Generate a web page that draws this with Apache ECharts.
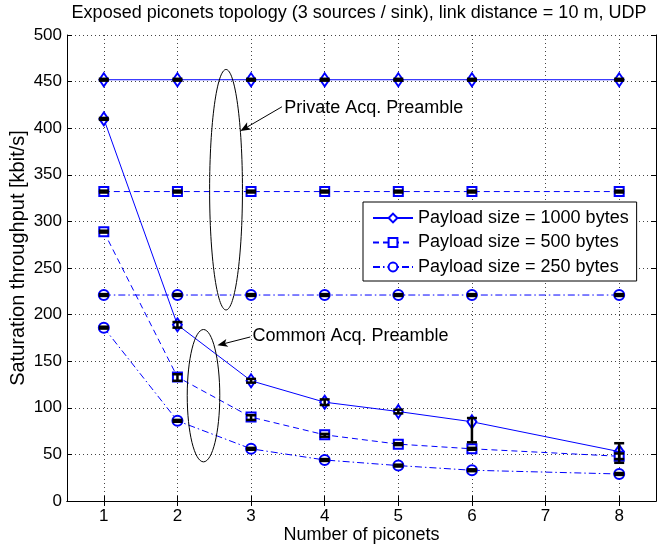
<!DOCTYPE html>
<html>
<head>
<meta charset="utf-8">
<script src="https://cdn.jsdelivr.net/npm/echarts@6/dist/echarts.min.js"></script>
<style>
  html, body { margin: 0; padding: 0; background: #fff; }
  #chart { width: 658px; height: 544px; }
</style>
</head>
<body>
<div id="chart"></div>
<script>
// x positions where measurements exist (no run with 7 piconets)
const piconets = [1, 2, 3, 4, 5, 6, 8];
const xTicks = [1, 2, 3, 4, 5, 6, 7, 8];

const seriesNames = ['Payload size = 1000 bytes', 'Payload size = 500 bytes', 'Payload size = 250 bytes'];

// Private acquisition preamble (flat)
const private1000 = [452, 452, 452, 452, 452, 452, 452];
const private500 = [332, 332, 332, 332, 332, 332, 332];
const private250 = [221, 221, 221, 221, 221, 221, 221];

// Common acquisition preamble
const common1000 = [410, 189, 129, 106, 96, 85, 53];
const common500 = [289, 133, 90, 71, 61, 56, 48];
const common250 = [186, 86, 56, 44, 38, 33, 29];

// error bar ranges
const private1000Low = [451, 451, 451, 451, 451, 451, 451];
const private1000High = [453, 453, 453, 453, 453, 453, 453];
const private500Low = [331, 331, 331, 331, 331, 331, 331];
const private500High = [333, 333, 333, 333, 333, 333, 333];
const private250Low = [220, 220, 220, 220, 220, 220, 220];
const private250High = [222, 222, 222, 222, 222, 222, 222];
const common1000Low = [409, 186, 127, 103, 94, 63, 41];
const common1000High = [411, 192, 131, 109, 98, 89, 62];
const common500Low = [288, 129, 87, 69, 60, 55, 45];
const common500High = [290, 136, 92, 72, 62, 57, 51];
const common250Low = [185, 85, 55, 43, 37, 32, 28];
const common250High = [187, 87, 57, 45, 39, 34, 30];

const noteTexts = ['Private Acq. Preamble', 'Common Acq. Preamble'];

// annotation geometry, in data units
const notes = [
  { center: [2.66, 334], radius: [0.223, 129], from: [3.42, 423], tip: [2.855, 397], textAt: [3.45, 422] },
  { center: [2.354, 113], radius: [0.221, 71], from: [2.99, 176], tip: [2.543, 167], textAt: [3.02, 177] }
];

const FONT = "'Liberation Sans', Arial, sans-serif";
const BLUE = '#0000ff';

const toPoints = (vals) => piconets.map((x, i) => [x, vals[i]]);
const toBars = (low, high) => piconets.map((x, i) => [x, low[i], high[i]]);

const errorData = [].concat(
  toBars(private1000Low, private1000High),
  toBars(private500Low, private500High),
  toBars(private250Low, private250High),
  toBars(common1000Low, common1000High),
  toBars(common500Low, common500High),
  toBars(common250Low, common250High)
);

function renderErrorBar(params, api) {
  const x = api.value(0);
  const lo = api.coord([x, api.value(1)]);
  const hi = api.coord([x, api.value(2)]);
  const half = 5;
  const style = { stroke: '#000', lineWidth: 2.5 };
  return {
    type: 'group',
    children: [
      { type: 'line', shape: { x1: hi[0], y1: hi[1], x2: lo[0], y2: lo[1] }, style: style },
      { type: 'line', shape: { x1: hi[0] - half, y1: hi[1], x2: hi[0] + half, y2: hi[1] }, style: style },
      { type: 'line', shape: { x1: lo[0] - half, y1: lo[1], x2: lo[0] + half, y2: lo[1] }, style: style }
    ]
  };
}

function renderNote(params, api) {
  const note = notes[params.dataIndex];
  const c = api.coord(note.center);
  const edge = api.coord([note.center[0] + note.radius[0], note.center[1] + note.radius[1]]);
  const rx = Math.abs(edge[0] - c[0]);
  const ry = Math.abs(c[1] - edge[1]);
  const from = api.coord(note.from);
  const tip = api.coord(note.tip);
  const textAt = api.coord(note.textAt);
  const ang = Math.atan2(tip[1] - from[1], tip[0] - from[0]);
  const len = 11, spread = 0.38;
  const p1 = [tip[0] - len * Math.cos(ang - spread), tip[1] - len * Math.sin(ang - spread)];
  const p2 = [tip[0] - len * Math.cos(ang + spread), tip[1] - len * Math.sin(ang + spread)];
  const back = [tip[0] - len * 0.7 * Math.cos(ang), tip[1] - len * 0.7 * Math.sin(ang)];
  return {
    type: 'group',
    children: [
      { type: 'ellipse', shape: { cx: c[0], cy: c[1], rx: rx, ry: ry }, style: { stroke: '#000', lineWidth: 1, fill: null } },
      { type: 'line', shape: { x1: from[0], y1: from[1], x2: back[0], y2: back[1] }, style: { stroke: '#000', lineWidth: 1 } },
      { type: 'polygon', shape: { points: [tip, p1, back, p2] }, style: { fill: '#000' } },
      { type: 'text', x: textAt[0], y: textAt[1], style: { text: noteTexts[params.dataIndex], font: '18px ' + FONT, fill: '#000', align: 'left', verticalAlign: 'middle' } }
    ]
  };
}

function lineSeries(name, vals, symbol, size, dash) {
  return {
    name: name,
    type: 'line',
    data: toPoints(vals),
    symbol: symbol,
    symbolSize: size,
    showSymbol: true,
    itemStyle: { color: BLUE, borderWidth: 1 },
    lineStyle: { color: BLUE, width: 1, type: dash },
    z: 3
  };
}

const chart = echarts.init(document.getElementById('chart'));

const option = {
  animation: false,
  backgroundColor: '#fff',
  textStyle: { fontFamily: FONT },
  title: {
    text: 'Exposed piconets topology (3 sources / sink), link distance = 10 m, UDP',
    left: 359,
    textAlign: 'center',
    top: 4,
    padding: 0,
    textStyle: { fontFamily: FONT, fontSize: 18, fontWeight: 'normal', color: '#000' }
  },
  legend: {
    data: seriesNames,
    orient: 'vertical',
    left: 363,
    top: 202,
    padding: [7, 8, 5, 9],
    itemGap: 6.5,
    itemWidth: 40,
    itemHeight: 11,
    backgroundColor: '#fff',
    borderColor: '#000',
    borderWidth: 1,
    borderRadius: 0,
    textStyle: { fontFamily: FONT, fontSize: 18, color: '#000' }
  },
  grid: { left: 67, right: 2, top: 35, bottom: 43, containLabel: false, outerBoundsMode: 'none' },
  xAxis: [
    {
      type: 'value',
      min: 0.5,
      max: 8.5,
      position: 'bottom',
      name: 'Number of piconets',
      nameLocation: 'middle',
      nameGap: 25,
      nameMoveOverlap: false,
      nameTextStyle: { fontFamily: FONT, fontSize: 18, color: '#000' },
      axisLine: { show: true, lineStyle: { color: '#000', width: 1 } },
      axisTick: { show: true, inside: true, length: 5, customValues: xTicks, lineStyle: { color: '#000' } },
      axisLabel: { customValues: xTicks, margin: 7, fontFamily: FONT, fontSize: 17, color: '#000' },
      splitLine: { show: true, lineStyle: { color: '#444', width: 1, type: [1, 3] } }
    },
    {
      type: 'value',
      min: 0.5,
      max: 8.5,
      position: 'top',
      axisLine: { show: true, lineStyle: { color: '#000', width: 1 } },
      axisTick: { show: true, inside: true, length: 5, customValues: xTicks, lineStyle: { color: '#000' } },
      axisLabel: { show: false },
      splitLine: { show: false }
    }
  ],
  yAxis: [
    {
      type: 'value',
      min: 0,
      max: 500,
      interval: 50,
      position: 'left',
      name: 'Saturation throughput [kbit/s]',
      nameLocation: 'middle',
      nameGap: 39,
      nameMoveOverlap: false,
      nameTextStyle: { fontFamily: FONT, fontSize: 20, color: '#000', padding: [0, 0, 0, 20] },
      axisLine: { show: true, lineStyle: { color: '#000', width: 1 } },
      axisTick: { show: true, inside: true, length: 5, lineStyle: { color: '#000' } },
      axisLabel: { margin: 5, fontFamily: FONT, fontSize: 17, color: '#000' },
      splitLine: { show: true, lineStyle: { color: '#444', width: 1, type: [1, 3] } }
    },
    {
      type: 'value',
      min: 0,
      max: 500,
      interval: 50,
      position: 'right',
      axisLine: { show: true, lineStyle: { color: '#000', width: 1 } },
      axisTick: { show: true, inside: true, length: 5, lineStyle: { color: '#000' } },
      axisLabel: { show: false },
      splitLine: { show: false }
    }
  ],
  series: [
    lineSeries(seriesNames[0], private1000, 'emptyDiamond', [9, 13], 'solid'),
    lineSeries(seriesNames[0], common1000, 'emptyDiamond', [9, 13], 'solid'),
    lineSeries(seriesNames[1], private500, 'emptyRect', [9, 9], [6, 4]),
    lineSeries(seriesNames[1], common500, 'emptyRect', [9, 9], [6, 4]),
    lineSeries(seriesNames[2], private250, 'emptyCircle', 10, [7, 3, 1.5, 3]),
    lineSeries(seriesNames[2], common250, 'emptyCircle', 10, [7, 3, 1.5, 3]),
    {
      name: 'errorbars',
      type: 'custom',
      renderItem: renderErrorBar,
      data: errorData,
      encode: { x: 0, y: [1, 2] },
      silent: true,
      z: 5
    },
    {
      name: 'notes',
      type: 'custom',
      renderItem: renderNote,
      data: notes.map(n => n.center),
      encode: { x: 0, y: 1 },
      clip: false,
      silent: true,
      z: 6
    }
  ]
};

chart.setOption(option);
</script>
</body>
</html>
